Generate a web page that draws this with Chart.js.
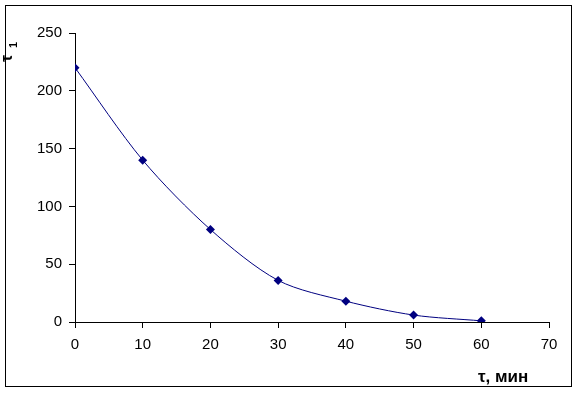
<!DOCTYPE html>
<html>
<head>
<meta charset="utf-8">
<script src="https://cdn.jsdelivr.net/npm/chart.js@4"></script>
<style>
  html, body { margin: 0; padding: 0; background: #fff; }
  canvas { display: block; }
</style>
</head>
<body>
<canvas id="c" width="580" height="393"></canvas>
<script>
// time, min and tau_1
const times = [0, 10, 20, 30, 40, 50, 60];
const tau1 = [220, 140, 80, 36, 18, 6, 1];
const xTicks = [0, 10, 20, 30, 40, 50, 60, 70];
const yTicks = [0, 50, 100, 150, 200, 250];

const navy = '#000080';
const font = "'Liberation Sans', Arial, sans-serif";

// frame round the whole chart plus the two axis titles
const extras = {
  id: 'extras',
  afterDraw(chart) {
    const ctx = chart.ctx;
    ctx.save();
    ctx.strokeStyle = '#000';
    ctx.lineWidth = 1;
    ctx.strokeRect(5.5, 5.5, 566, 381);

    ctx.fillStyle = '#000';
    ctx.textBaseline = 'alphabetic';
    ctx.textAlign = 'left';
    ctx.font = `bold 17px ${font}`;
    ctx.fillText('τ, мин', 478, 382);

    ctx.translate(12, 62);
    ctx.rotate(-Math.PI / 2);
    ctx.font = `bold 16px ${font}`;
    ctx.fillText('τ', 0, 0);
    ctx.font = `bold 11px ${font}`;
    ctx.fillText('1', 14, 5);
    ctx.restore();
  }
};

new Chart(document.getElementById('c'), {
  type: 'scatter',
  data: {
    datasets: [{
      data: times.map((t, i) => ({ x: t, y: tau1[i] })),
      showLine: true,
      tension: 0.3,
      borderColor: navy,
      borderWidth: 1,
      backgroundColor: navy,
      pointStyle: 'rectRot',
      pointRadius: 4.5,
      pointBorderWidth: 0,
    }]
  },
  options: {
    responsive: false,
    devicePixelRatio: 1,
    animation: false,
    layout: { padding: { left: 0, top: 33, right: 31, bottom: 0 } },
    plugins: { legend: { display: false }, tooltip: { enabled: false } },
    scales: {
      x: {
        type: 'linear',
        min: 0, max: 70,
        afterBuildTicks: s => { s.ticks = xTicks.map(v => ({ value: v })); },
        afterFit: s => { s.height = 71; },
        ticks: { color: '#000', font: { family: font, size: 15 }, padding: 8, maxRotation: 0 },
        grid: { drawOnChartArea: false, drawTicks: true, tickLength: 6, color: '#000' },
        border: { display: true, color: '#000', width: 1 },
      },
      y: {
        type: 'linear',
        min: 0, max: 250,
        afterBuildTicks: s => { s.ticks = yTicks.map(v => ({ value: v })); },
        afterFit: s => { s.width = 75; },
        ticks: { color: '#000', font: { family: font, size: 15 }, padding: 7 },
        grid: { drawOnChartArea: false, drawTicks: true, tickLength: 6, color: '#000' },
        border: { display: true, color: '#000', width: 1 },
      }
    }
  },
  plugins: [extras]
});
</script>
</body>
</html>
